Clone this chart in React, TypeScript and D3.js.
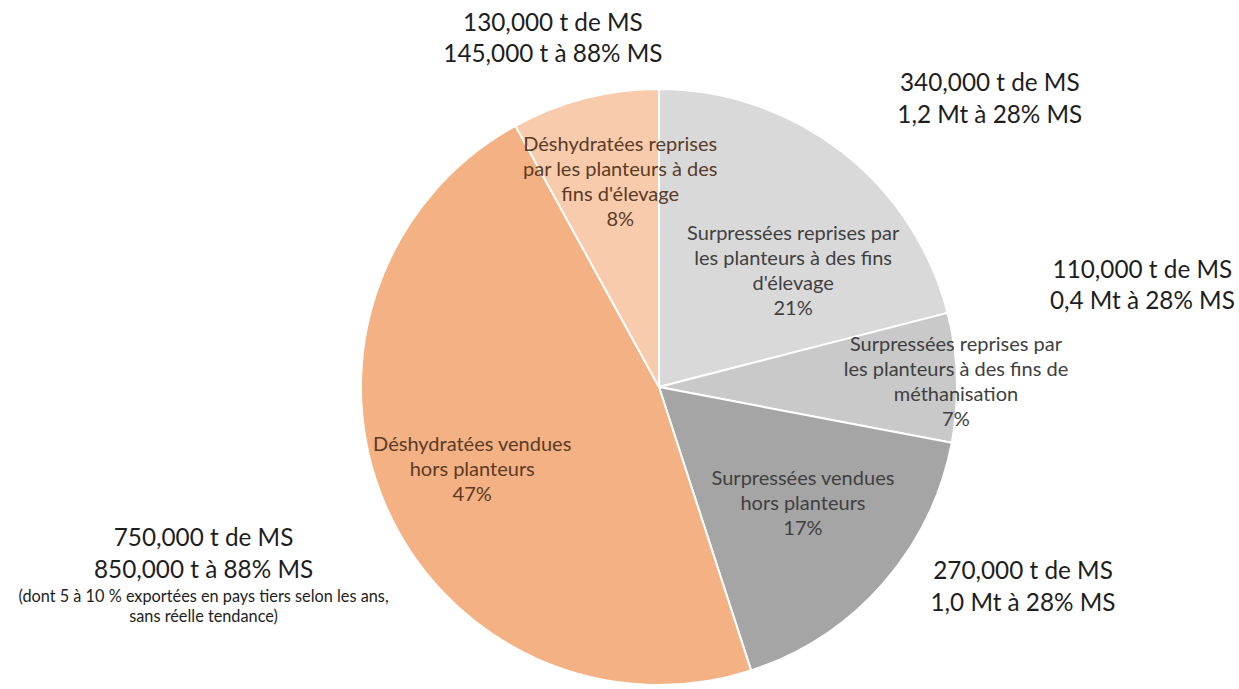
import React, { useEffect, useRef } from 'react';
import * as d3 from 'd3';

// parts clockwise from 12 o'clock
const categories = [
  ["Surpressées reprises par", "les planteurs à des fins", "d'élevage"],
  ["Surpressées reprises par", "les planteurs à des fins de", "méthanisation"],
  ["Surpressées vendues", "hors planteurs"],
  ["Déshydratées vendues", "hors planteurs"],
  ["Déshydratées reprises", "par les planteurs à des", "fins d'élevage"],
];
const shares = [21, 7, 17, 47, 8];
const tonnages = [
  ["340,000 t de MS", "1,2 Mt à 28% MS"],
  ["110,000 t de MS", "0,4 Mt à 28% MS"],
  ["270,000 t de MS", "1,0 Mt à 28% MS"],
  ["750,000 t de MS", "850,000 t à 88% MS"],
  ["130,000 t de MS", "145,000 t à 88% MS"],
];
const notes = [[], [], [], ["(dont 5 à 10 % exportées en pays tiers selon les ans,", "sans réelle tendance)"], []];
const colors = ["#d9d9d9", "#c9c9c9", "#a5a5a5", "#f4b183", "#f8cbad"];
const innerText = ["#404040", "#404040", "#404040", "#5b3b26", "#5b3b26"];

// label placement, polar (degrees from top, px from centre) - "best fit" style
const innerPos = [[48.9, 178], [88.9, 297], [128.9, 185], [246.3, 204], [349.3, 209]];
const outerPos = [[48.9, 439], [78.1, 494], [118.7, 415], [249.9, 485], [343.1, 365]];

const W = 1239, H = 689;
const cx = 659, cy = 387, R = 298;

const App: React.FC = () => {
  const ref = useRef<SVGSVGElement>(null);

  useEffect(() => {
    const svg = d3.select(ref.current);
    svg.selectAll("*").remove();

    const g = svg.append("g").attr("transform", `translate(${cx},${cy})`);

    const pie = d3.pie<number>().sort(null).value(d => d);
    const arc = d3.arc<d3.PieArcDatum<number>>().innerRadius(0).outerRadius(R);
    const arcs = pie(shares);

    g.selectAll("path")
      .data(arcs)
      .enter().append("path")
      .attr("d", arc)
      .attr("fill", (_, i) => colors[i])
      .attr("stroke", "#ffffff")
      .attr("stroke-width", 2)
      .attr("stroke-linejoin", "round");

    const polar = (deg: number, r: number) => {
      const a = (deg * Math.PI) / 180;
      return [r * Math.sin(a), -r * Math.cos(a)];
    };

    const font = "Lato, 'Open Sans', sans-serif";

    // labels inside slices
    arcs.forEach((d, i) => {
      const [x, y] = polar(innerPos[i][0], innerPos[i][1]);
      const lines = [...categories[i], `${shares[i]}%`];
      const lh = 25;
      const t = g.append("text")
        .attr("text-anchor", "middle")
        .attr("font-family", font)
        .attr("font-size", 20)
        .attr("fill", innerText[i]);
      lines.forEach((l, k) => {
        t.append("tspan")
          .attr("x", x)
          .attr("y", y + (k - (lines.length - 1) / 2) * lh)
          .attr("dy", "0.35em")
          .text(l);
      });
    });

    // tonnage labels outside
    arcs.forEach((d, i) => {
      const [x, y] = polar(outerPos[i][0], outerPos[i][1]);
      const lh = 31.5;
      const t = g.append("text")
        .attr("text-anchor", "middle")
        .attr("font-family", font)
        .attr("font-size", 24.3)
        .attr("fill", "#1e1e1e");
      tonnages[i].forEach((l, k) => {
        t.append("tspan")
          .attr("x", x)
          .attr("y", y + (k - 0.5) * lh)
          .attr("dy", "0.35em")
          .text(l);
      });
      if (notes[i].length > 0) {
        const n = g.append("text")
          .attr("text-anchor", "middle")
          .attr("font-family", font)
          .attr("font-size", 16.3)
          .attr("fill", "#1e1e1e");
        notes[i].forEach((l, k) => {
          n.append("tspan")
            .attr("x", x)
            .attr("y", y + lh / 2 + 27 + k * 19.5)
            .attr("dy", "0.35em")
            .text(l);
        });
      }
    });
  }, []);

  return (
    <svg
      ref={ref}
      width={W}
      height={H}
      style={{ position: 'absolute', left: 0, top: 0, background: '#ffffff' }}
    />
  );
};

export default App;
